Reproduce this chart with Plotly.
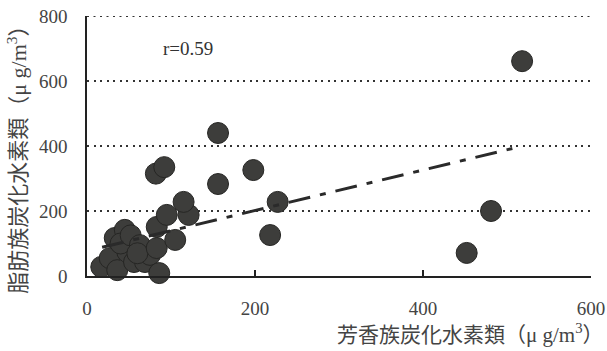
import plotly.graph_objects as go

# 芳香族炭化水素類 (x) vs 脂肪族炭化水素類 (y), μg/m3
aromatic = [17, 27, 36, 48, 56, 69, 75, 33, 45, 40, 52, 63, 60, 83, 83, 86,
            105, 95, 121, 115, 82, 92, 156, 156, 198, 227, 218, 452, 481, 518]
aliphatic = [28, 55, 18, 74, 43, 43, 65, 117, 142, 100, 125, 95, 70, 151, 86, 9,
             111, 188, 188, 228, 315, 335, 440, 283, 326, 228, 126, 71, 200, 661]

# regression line endpoints
fit_x = [18, 512]
fit_slope = 0.623
fit_intercept = 77
fit_y = [fit_slope * v + fit_intercept for v in fit_x]

x_ticks = [0, 200, 400, 600]
y_ticks = [0, 200, 400, 600, 800]
r_label = "r=0.59"
x_title = "芳香族炭化水素類（μ g/m<sup>3</sup>）"
y_title = "脂肪族炭化水素類（μ g/m<sup>3</sup>）"

FONT = "Liberation Serif, Noto Sans CJK JP, serif"
GRID_DASH = "2px,4.5px"

fig = go.Figure()
fig.add_trace(go.Scatter(
    x=aromatic, y=aliphatic, mode="markers",
    marker=dict(size=21, color="#3d3d3b", line=dict(color="#262624", width=1)),
    showlegend=False, cliponaxis=False,
))
fig.add_trace(go.Scatter(
    x=fit_x, y=fit_y, mode="lines",
    line=dict(color="#2a2a2a", width=3, dash="22px,10px,6px,10px"),
    showlegend=False,
))

# top gridline at the range edge (plotly omits it)
fig.add_shape(type="line", xref="paper", yref="y", x0=0, x1=1,
              y0=y_ticks[-1], y1=y_ticks[-1], layer="below",
              line=dict(color="#333", width=2, dash=GRID_DASH))

fig.add_annotation(x=120, y=700, xref="x", yref="y", text=r_label, showarrow=False,
                   font=dict(family=FONT, size=19, color="#333"))
fig.add_annotation(x=1.03, y=-0.22, xref="paper", yref="paper", text=x_title,
                   showarrow=False, xanchor="right", yanchor="middle",
                   font=dict(family=FONT, size=21, color="#444"))
fig.add_annotation(x=-0.139, y=0.47, xref="paper", yref="paper", text=y_title,
                   showarrow=False, textangle=-90, xanchor="center", yanchor="middle",
                   font=dict(family=FONT, size=22, color="#444"))

fig.update_layout(
    width=607, height=351,
    margin=dict(l=87, r=16, t=16, b=75, autoexpand=False),
    paper_bgcolor="white", plot_bgcolor="white",
    font=dict(family=FONT, size=19, color="#444"),
    xaxis=dict(
        range=[0, 600], tickvals=x_ticks, showgrid=False, zeroline=False,
        showline=True, linecolor="#222", linewidth=1.5, automargin=False,
        ticks="inside", ticklen=6, tickwidth=1.5, tickcolor="#222",
        ticklabelstandoff=14,
    ),
    yaxis=dict(
        range=[0, 800], tickvals=y_ticks, zeroline=False, automargin=False,
        showgrid=True, gridcolor="#333", gridwidth=2, griddash=GRID_DASH,
        showline=True, linecolor="#222", linewidth=1.5,
        ticks="", ticklabelstandoff=14,
    ),
)

fig.write_html("out.html")
